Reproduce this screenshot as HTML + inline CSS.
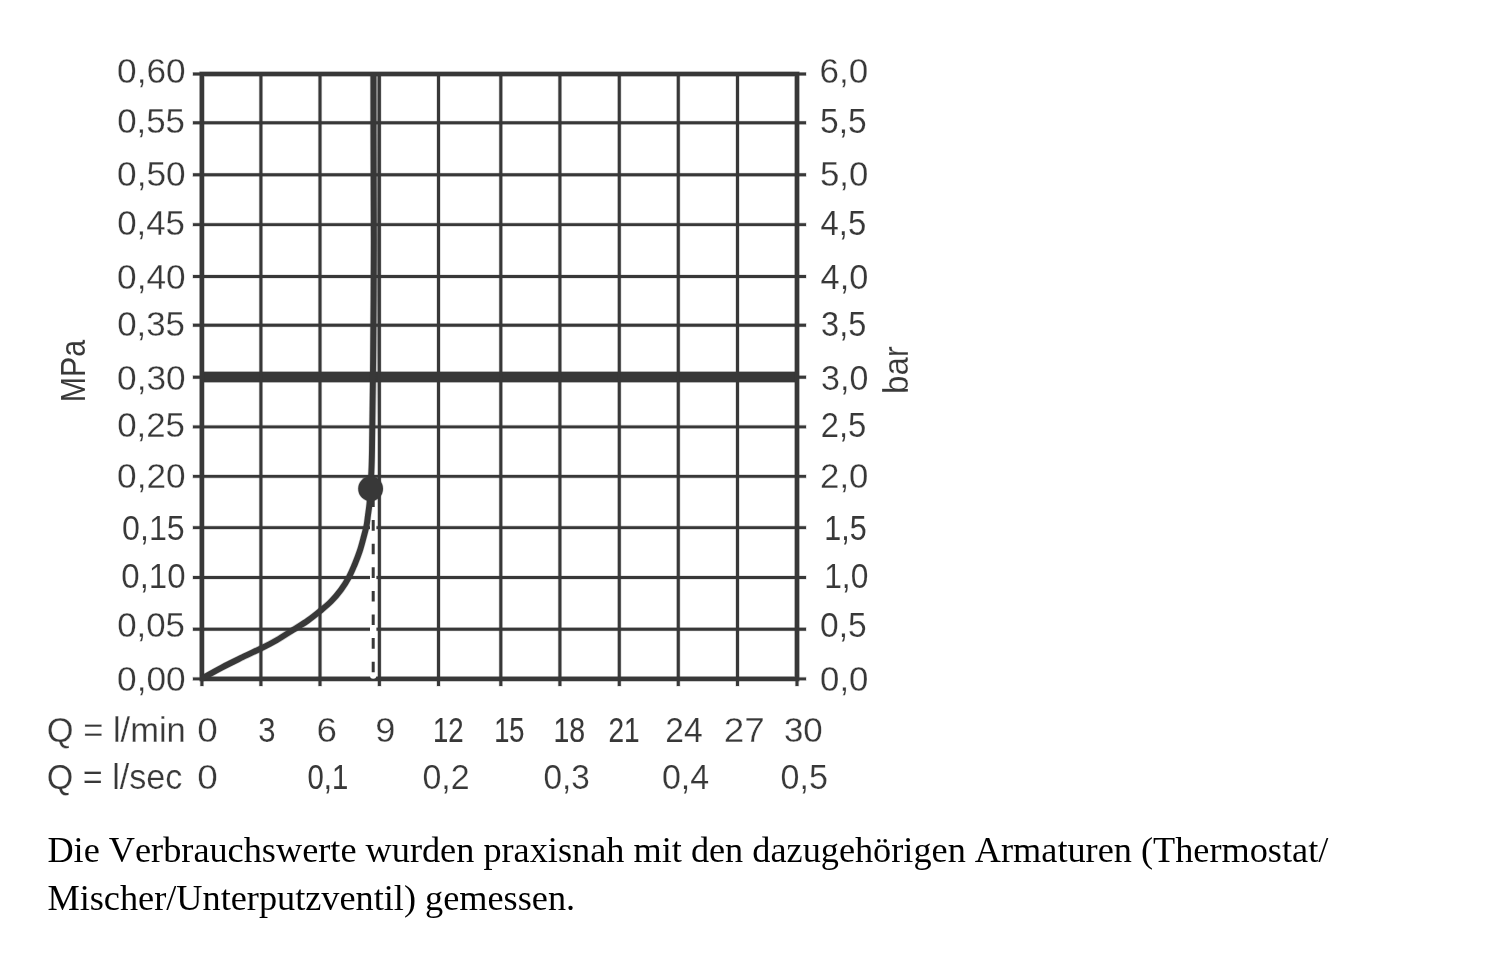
<!DOCTYPE html>
<html lang="de"><head><meta charset="utf-8"><title>Durchflussdiagramm</title>
<style>
html,body{margin:0;padding:0;background:#fff;}
body{width:1500px;height:956px;overflow:hidden;position:relative;}
svg{position:absolute;left:0;top:0;display:block;}
.s{font-family:"Liberation Sans",Arial,sans-serif;font-size:35.6px;fill:#383838;stroke:#fff;stroke-width:0.45px;}
.s text{vector-effect:non-scaling-stroke;}
.cap{position:absolute;left:47.4px;top:825.7px;width:1400px;margin:0;font-family:"Liberation Serif","Times New Roman",serif;font-size:36.27px;line-height:48px;color:#000;white-space:nowrap;font-kerning:none;}
</style></head><body>
<svg width="1500" height="956" viewBox="0 0 1500 956">

<defs><linearGradient id="gp" gradientUnits="userSpaceOnUse" x1="0" y1="76" x2="0" y2="470"><stop offset="0" stop-color="#a8a8a8"/><stop offset="0.45" stop-color="#8e8e8e"/><stop offset="0.7" stop-color="#b6b6b6"/><stop offset="0.92" stop-color="#ffffff"/></linearGradient></defs>
<rect x="376.4" y="76" width="1.8" height="394" fill="url(#gp)"/>
<g stroke="#383838" fill="none" stroke-opacity="0.22">
<line x1="192.3" y1="122.8" x2="806.6" y2="122.8" stroke-width="4.2"/>
<line x1="192.3" y1="174.8" x2="806.6" y2="174.8" stroke-width="4.2"/>
<line x1="192.3" y1="224.6" x2="806.6" y2="224.6" stroke-width="4.2"/>
<line x1="192.3" y1="276.5" x2="806.6" y2="276.5" stroke-width="4.2"/>
<line x1="192.3" y1="325.2" x2="806.6" y2="325.2" stroke-width="4.2"/>
<line x1="192.3" y1="377.2" x2="806.6" y2="377.2" stroke-width="4.2"/>
<line x1="201.2" y1="377.0" x2="797.6" y2="377.0" stroke-width="11.7"/>
<line x1="192.3" y1="426.9" x2="806.6" y2="426.9" stroke-width="4.2"/>
<line x1="192.3" y1="476.4" x2="806.6" y2="476.4" stroke-width="4.2"/>
<line x1="192.3" y1="527.6" x2="806.6" y2="527.6" stroke-width="4.2"/>
<line x1="192.3" y1="577.5" x2="806.6" y2="577.5" stroke-width="4.2"/>
<line x1="192.3" y1="629.2" x2="806.6" y2="629.2" stroke-width="4.2"/>
<line x1="260.9" y1="73.3" x2="260.9" y2="686.6" stroke-width="4.3"/>
<line x1="320.0" y1="73.3" x2="320.0" y2="686.6" stroke-width="4.3"/>
<line x1="379.4" y1="73.3" x2="379.4" y2="686.6" stroke-width="4.3"/>
<line x1="438.5" y1="73.3" x2="438.5" y2="686.6" stroke-width="4.3"/>
<line x1="500.8" y1="73.3" x2="500.8" y2="686.6" stroke-width="4.3"/>
<line x1="559.9" y1="73.3" x2="559.9" y2="686.6" stroke-width="4.3"/>
<line x1="619.3" y1="73.3" x2="619.3" y2="686.6" stroke-width="4.3"/>
<line x1="678.3" y1="73.3" x2="678.3" y2="686.6" stroke-width="4.3"/>
<line x1="737.5" y1="73.3" x2="737.5" y2="686.6" stroke-width="4.3"/>
<line x1="192.3" y1="74.0" x2="806.6" y2="74.0" stroke-width="4.2"/>
<line x1="192.3" y1="678.9" x2="806.6" y2="678.9" stroke-width="4.2"/>
<line x1="201.9" y1="73.3" x2="201.9" y2="686.6" stroke-width="4.3"/>
<line x1="797.0" y1="73.3" x2="797.0" y2="686.6" stroke-width="4.3"/>
<rect x="201.9" y="74" width="595.1" height="604.9" stroke-width="5.7"/>
</g>
<g stroke="#383838" fill="none">
<line x1="193.0" y1="122.8" x2="806.0" y2="122.8" stroke-width="2.9"/>
<line x1="193.0" y1="174.8" x2="806.0" y2="174.8" stroke-width="2.9"/>
<line x1="193.0" y1="224.6" x2="806.0" y2="224.6" stroke-width="2.9"/>
<line x1="193.0" y1="276.5" x2="806.0" y2="276.5" stroke-width="2.9"/>
<line x1="193.0" y1="325.2" x2="806.0" y2="325.2" stroke-width="2.9"/>
<line x1="193.0" y1="377.2" x2="806.0" y2="377.2" stroke-width="2.9"/>
<line x1="201.9" y1="377.0" x2="797.0" y2="377.0" stroke-width="10.4"/>
<line x1="193.0" y1="426.9" x2="806.0" y2="426.9" stroke-width="2.9"/>
<line x1="193.0" y1="476.4" x2="806.0" y2="476.4" stroke-width="2.9"/>
<line x1="193.0" y1="527.6" x2="806.0" y2="527.6" stroke-width="2.9"/>
<line x1="193.0" y1="577.5" x2="806.0" y2="577.5" stroke-width="2.9"/>
<line x1="193.0" y1="629.2" x2="806.0" y2="629.2" stroke-width="2.9"/>
<line x1="260.9" y1="74.0" x2="260.9" y2="686.0" stroke-width="3.0"/>
<line x1="320.0" y1="74.0" x2="320.0" y2="686.0" stroke-width="3.0"/>
<line x1="379.4" y1="74.0" x2="379.4" y2="686.0" stroke-width="3.0"/>
<line x1="438.5" y1="74.0" x2="438.5" y2="686.0" stroke-width="3.0"/>
<line x1="500.8" y1="74.0" x2="500.8" y2="686.0" stroke-width="3.0"/>
<line x1="559.9" y1="74.0" x2="559.9" y2="686.0" stroke-width="3.0"/>
<line x1="619.3" y1="74.0" x2="619.3" y2="686.0" stroke-width="3.0"/>
<line x1="678.3" y1="74.0" x2="678.3" y2="686.0" stroke-width="3.0"/>
<line x1="737.5" y1="74.0" x2="737.5" y2="686.0" stroke-width="3.0"/>
<line x1="193.0" y1="74.0" x2="806.0" y2="74.0" stroke-width="2.9"/>
<line x1="193.0" y1="678.9" x2="806.0" y2="678.9" stroke-width="2.9"/>
<line x1="201.9" y1="74.0" x2="201.9" y2="686.0" stroke-width="3.0"/>
<line x1="797.0" y1="74.0" x2="797.0" y2="686.0" stroke-width="3.0"/>
<rect x="201.9" y="74" width="595.1" height="604.9" stroke-width="4.4"/>
</g>
<line x1="373.2" y1="500" x2="373.2" y2="675.5" stroke="#fff" stroke-width="6.4" stroke-linecap="round"/>
<line x1="373.2" y1="496.5" x2="373.2" y2="674" stroke="#383838" stroke-width="3" stroke-dasharray="10.6 13"/>
<path d="M201.8 678.6 C205.2 676.7 215.4 671.0 222.2 667.4 C229.0 663.8 236.1 660.4 242.6 657.2 C249.1 654.0 255.3 651.2 261.0 648.4 C266.7 645.6 271.3 643.3 276.6 640.2 C281.9 637.1 287.7 633.3 292.9 630.0 C298.1 626.7 303.4 623.7 307.9 620.5 C312.4 617.3 316.2 614.2 320.1 611.0 C324.0 607.8 327.5 605.0 331.0 601.5 C334.5 598.0 338.0 593.9 341.0 589.8 C344.0 585.7 346.8 581.1 349.1 576.8 C351.4 572.5 353.1 568.2 354.9 564.0 C356.6 559.8 358.2 555.7 359.6 551.5 C361.0 547.3 362.1 543.1 363.2 538.9 C364.3 534.7 365.6 530.2 366.4 526.4 C367.2 522.6 367.4 519.7 367.9 515.9 C368.4 512.1 369.1 507.9 369.5 503.4 C369.9 498.9 370.3 493.3 370.6 488.7 C370.9 484.1 371.0 482.4 371.2 476.0 C371.4 469.6 371.7 469.3 372.0 450.0 C372.3 430.7 372.8 393.3 373.1 360.0 C373.4 326.7 373.7 285.0 373.8 250.0 C373.9 215.0 373.6 179.3 373.5 150.0 C373.4 120.7 373.4 86.7 373.4 74.0" fill="none" stroke="#383838" stroke-opacity="0.22" stroke-width="7.2" stroke-linejoin="round"/>
<path d="M201.8 678.6 C205.2 676.7 215.4 671.0 222.2 667.4 C229.0 663.8 236.1 660.4 242.6 657.2 C249.1 654.0 255.3 651.2 261.0 648.4 C266.7 645.6 271.3 643.3 276.6 640.2 C281.9 637.1 287.7 633.3 292.9 630.0 C298.1 626.7 303.4 623.7 307.9 620.5 C312.4 617.3 316.2 614.2 320.1 611.0 C324.0 607.8 327.5 605.0 331.0 601.5 C334.5 598.0 338.0 593.9 341.0 589.8 C344.0 585.7 346.8 581.1 349.1 576.8 C351.4 572.5 353.1 568.2 354.9 564.0 C356.6 559.8 358.2 555.7 359.6 551.5 C361.0 547.3 362.1 543.1 363.2 538.9 C364.3 534.7 365.6 530.2 366.4 526.4 C367.2 522.6 367.4 519.7 367.9 515.9 C368.4 512.1 369.1 507.9 369.5 503.4 C369.9 498.9 370.3 493.3 370.6 488.7 C370.9 484.1 371.0 482.4 371.2 476.0 C371.4 469.6 371.7 469.3 372.0 450.0 C372.3 430.7 372.8 393.3 373.1 360.0 C373.4 326.7 373.7 285.0 373.8 250.0 C373.9 215.0 373.6 179.3 373.5 150.0 C373.4 120.7 373.4 86.7 373.4 74.0" fill="none" stroke="#383838" stroke-width="5.9" stroke-linejoin="round"/>
<circle cx="370.6" cy="488.7" r="13.0" fill="#383838" fill-opacity="0.22"/>
<circle cx="370.6" cy="488.7" r="12.4" fill="#383838"/>
<g class="s">
<text transform="translate(117.11,82.5) scale(0.9901,1)" stroke-width="0.29">0,60</text>
<text transform="translate(117.13,132.7) scale(0.9796,1)" stroke-width="0.27">0,55</text>
<text transform="translate(117.11,186.4) scale(0.9901,1)" stroke-width="0.29">0,50</text>
<text transform="translate(117.13,234.5) scale(0.9796,1)" stroke-width="0.27">0,45</text>
<text transform="translate(117.11,288.8) scale(0.9901,1)" stroke-width="0.29">0,40</text>
<text transform="translate(117.13,335.9) scale(0.9796,1)" stroke-width="0.27">0,35</text>
<text transform="translate(117.11,389.6) scale(0.9901,1)" stroke-width="0.29">0,30</text>
<text transform="translate(117.13,436.9) scale(0.9796,1)" stroke-width="0.27">0,25</text>
<text transform="translate(117.11,488.2) scale(0.9901,1)" stroke-width="0.29">0,20</text>
<text transform="translate(122.03,540.1) scale(0.9044,1)" stroke-width="0.13">0,15</text>
<text transform="translate(121.30,588.2) scale(0.9285,1)" stroke-width="0.18">0,10</text>
<text transform="translate(117.13,637.4) scale(0.9796,1)" stroke-width="0.27">0,05</text>
<text transform="translate(117.11,690.9) scale(0.9901,1)" stroke-width="0.29">0,00</text>
<text transform="translate(819.59,82.5) scale(0.9853,1)" stroke-width="0.28">6,0</text>
<text transform="translate(820.08,132.7) scale(0.9420,1)" stroke-width="0.20">5,5</text>
<text transform="translate(820.03,186.4) scale(0.9762,1)" stroke-width="0.26">5,0</text>
<text transform="translate(820.60,234.5) scale(0.9227,1)" stroke-width="0.17">4,5</text>
<text transform="translate(820.57,288.8) scale(0.9651,1)" stroke-width="0.24">4,0</text>
<text transform="translate(821.12,335.9) scale(0.9119,1)" stroke-width="0.15">3,5</text>
<text transform="translate(821.06,389.6) scale(0.9548,1)" stroke-width="0.22">3,0</text>
<text transform="translate(820.71,436.9) scale(0.9205,1)" stroke-width="0.16">2,5</text>
<text transform="translate(820.11,488.2) scale(0.9767,1)" stroke-width="0.26">2,0</text>
<text transform="translate(824.30,540.1) scale(0.8541,1)" stroke-width="0.01" stroke="#383838">1,5</text>
<text transform="translate(824.20,588.2) scale(0.8917,1)" stroke-width="0.11">1,0</text>
<text transform="translate(820.08,637.4) scale(0.9420,1)" stroke-width="0.20">0,5</text>
<text transform="translate(820.03,690.9) scale(0.9783,1)" stroke-width="0.27">0,0</text>
<text transform="translate(85.0,399.7) rotate(-90) scale(0.8530,1) translate(-2.91,0)" stroke-width="0.04">MPa</text>
<text transform="translate(908.2,391.8) rotate(-90) scale(0.9290,1) translate(-2.27,0)" stroke-width="0.18">bar</text>
<text transform="translate(46.73,741.6) scale(0.9700,1)" stroke-width="0.25">Q = l/min</text>
<text transform="translate(46.74,788.5) scale(0.9594,1)" stroke-width="0.23">Q = l/sec</text>
<text transform="translate(197.14,741.6) scale(1.0384,1)" stroke-width="0.38">0</text>
<text transform="translate(258.17,741.6) scale(0.8735,1)" stroke-width="0.08">3</text>
<text transform="translate(316.40,741.6) scale(1.0367,1)" stroke-width="0.37">6</text>
<text transform="translate(375.15,741.6) scale(1.0178,1)" stroke-width="0.34">9</text>
<text transform="translate(433.01,741.6) scale(0.7734,1)" stroke-width="0.14" stroke="#383838">12</text>
<text transform="translate(494.24,741.6) scale(0.7635,1)" stroke-width="0.15" stroke="#383838">15</text>
<text transform="translate(553.44,741.6) scale(0.7998,1)" stroke-width="0.10" stroke="#383838">18</text>
<text transform="translate(608.56,741.6) scale(0.7854,1)" stroke-width="0.12" stroke="#383838">21</text>
<text transform="translate(665.37,741.6) scale(0.9433,1)" stroke-width="0.20">24</text>
<text transform="translate(723.70,741.6) scale(1.0380,1)" stroke-width="0.37">27</text>
<text transform="translate(783.92,741.6) scale(0.9812,1)" stroke-width="0.27">30</text>
<text transform="translate(197.14,788.5) scale(1.0384,1)" stroke-width="0.38">0</text>
<text transform="translate(307.45,788.5) scale(0.8232,1)" stroke-width="0.06" stroke="#383838">0,1</text>
<text transform="translate(422.46,788.5) scale(0.9551,1)" stroke-width="0.23">0,2</text>
<text transform="translate(543.59,788.5) scale(0.9356,1)" stroke-width="0.19">0,3</text>
<text transform="translate(661.96,788.5) scale(0.9546,1)" stroke-width="0.22">0,4</text>
<text transform="translate(780.56,788.5) scale(0.9570,1)" stroke-width="0.23">0,5</text>
</g>
</svg>
<p class="cap">Die Verbrauchswerte wurden praxisnah mit den dazugehörigen Armaturen (Thermostat/<br>Mischer/Unterputzventil) gemessen.</p>
</body></html>
